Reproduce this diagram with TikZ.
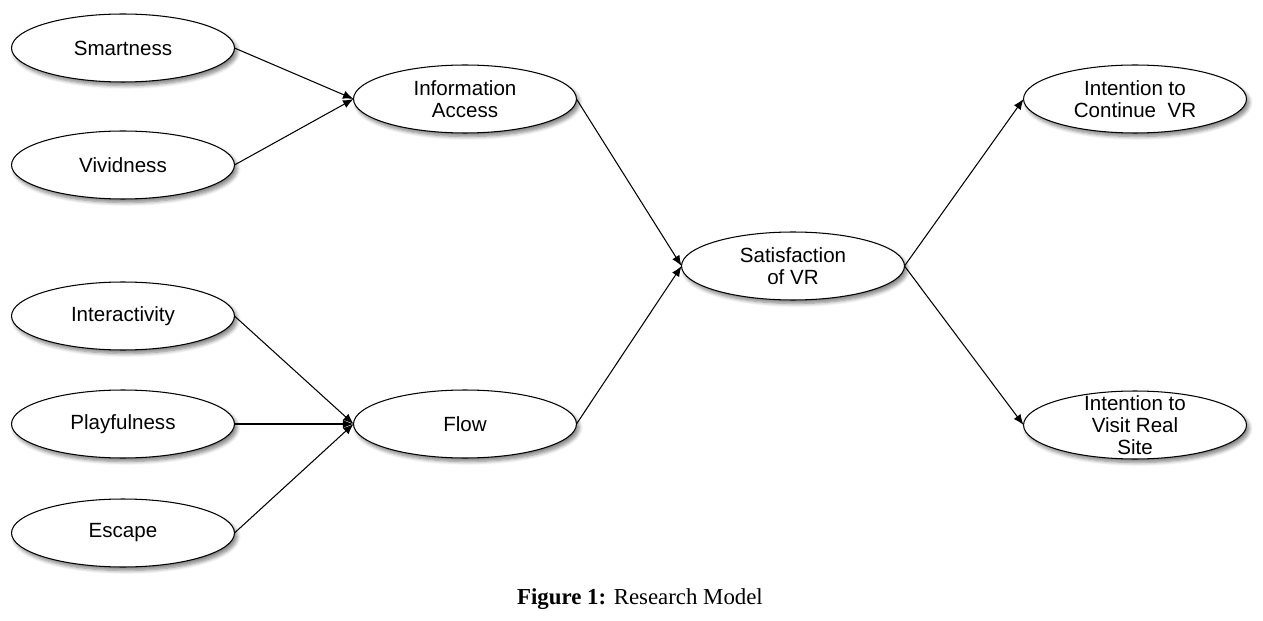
\documentclass[tikz,border=0pt]{standalone}
\usepackage{fontspec}
\setmainfont{Liberation Sans}
\newfontfamily\captfont{Liberation Serif}
\usetikzlibrary{positioning, arrows.meta, shapes.geometric, shadows.blur}

\begin{document}
\begin{tikzpicture}[
    x=0.02cm, y=-0.02cm,
    var/.style={draw, ellipse, line width=0.6pt, fill=white, inner sep=0pt, outer sep=0pt,
                minimum width=4.46cm, minimum height=1.36cm, align=center,
                font=\fontsize{11.7}{12.6}\selectfont,
                blur shadow={shadow xshift=1.5pt, shadow yshift=-2pt, shadow blur steps=6, shadow opacity=50}},
    arr/.style={-{Latex[length=6pt, width=4.8pt]}, line width=0.6pt}
]
\useasboundingbox (0,0) rectangle (1263,621);
% exogenous constructs
\node[var] (smart) at (123,48) {Smartness};
\node[var] (vivid) at (123,165) {Vividness};
\node[var] (inter) at (123,316) {Interactivity};
\node[var] (play) at (123,424) {Playfulness};
\node[var] (escape) at (123,533) {Escape};
% mediators
\node[var] (info) at (465,99) {Information\\Access};
\node[var] (flow) at (465,424) {Flow};
\node[var] (satis) at (793,266) {Satisfaction\\of VR};
% outcomes
\node[var] (contin) at (1135,99) {Intention to\\Continue~ VR};
\node[var, inner ysep=-12pt] (visit) at (1135,425) {Intention to\\Visit Real\\Site};
\draw[arr] (smart.east) -- (info.west);
\draw[arr] (vivid.east) -- (info.west);
\draw[arr] (inter.east) -- (flow.west);
\draw[arr] (play.east) -- (flow.west);
\draw[arr] (escape.east) -- (flow.west);
\draw[arr] (info.east) -- (satis.west);
\draw[arr] (flow.east) -- (satis.west);
\draw[arr] (satis.east) -- (contin.west);
\draw[arr] (satis.east) -- (visit.west);
\node[font=\captfont\fontsize{13}{15}\selectfont] (caption) at (640,599) {\textbf{Figure 1:} Research Model};
\end{tikzpicture}
\end{document}
